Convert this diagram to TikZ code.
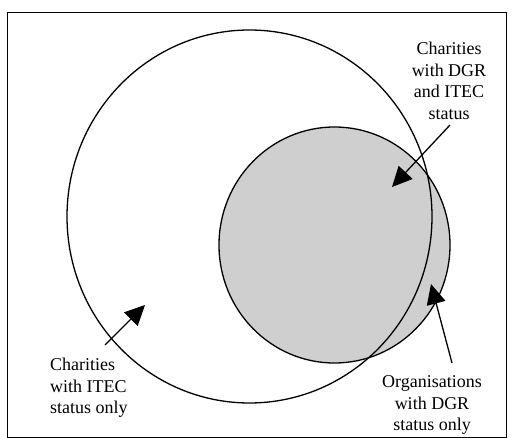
\documentclass[tikz,border=0pt]{standalone}
\usepackage{fontspec}
\setmainfont{Liberation Serif}
\usetikzlibrary{arrows.meta}
\begin{document}
\begin{tikzpicture}[x=1pt,y=-1pt,
  lbl/.style={font=\fontsize{18}{21.5}\selectfont, align=center, inner sep=0pt},
  ptr/.style={line width=1.3pt, -{Triangle[length=20pt,width=19pt]}},
  ring/.style={line width=1.3pt}]
\useasboundingbox (0,0) rectangle (525,438);
\draw[line width=0.9pt] (7,12) rectangle (506,437);
% DGR circle (shaded)
\fill[gray!38] (334.5,245) ellipse [x radius=115.5, y radius=118];
% ITEC circle
\draw[ring] (249.5,216.5) ellipse [x radius=182.5, y radius=186.5];
\draw[ring] (334.5,245) ellipse [x radius=115.5, y radius=118];
% labels
\node[lbl] (both) at (449,81) {Charities\\with DGR\\and ITEC\\status};
\node[lbl, align=left, anchor=north west] (itec) at (50,358) {Charities\\with ITEC\\status only};
\node[lbl] (dgr) at (432,405) {Organisations\\with DGR\\status only};
% pointers
\coordinate (t1) at (450,125);
\coordinate (h1) at (392,187);
\coordinate (t2) at (105,345);
\coordinate (h2) at (145,305);
\coordinate (t3) at (452,363);
\coordinate (h3) at (431,284);
\draw[ptr] (t1) -- (h1);
\draw[ptr] (t2) -- (h2);
\draw[ptr] (t3) -- (h3);
\end{tikzpicture}
\end{document}
